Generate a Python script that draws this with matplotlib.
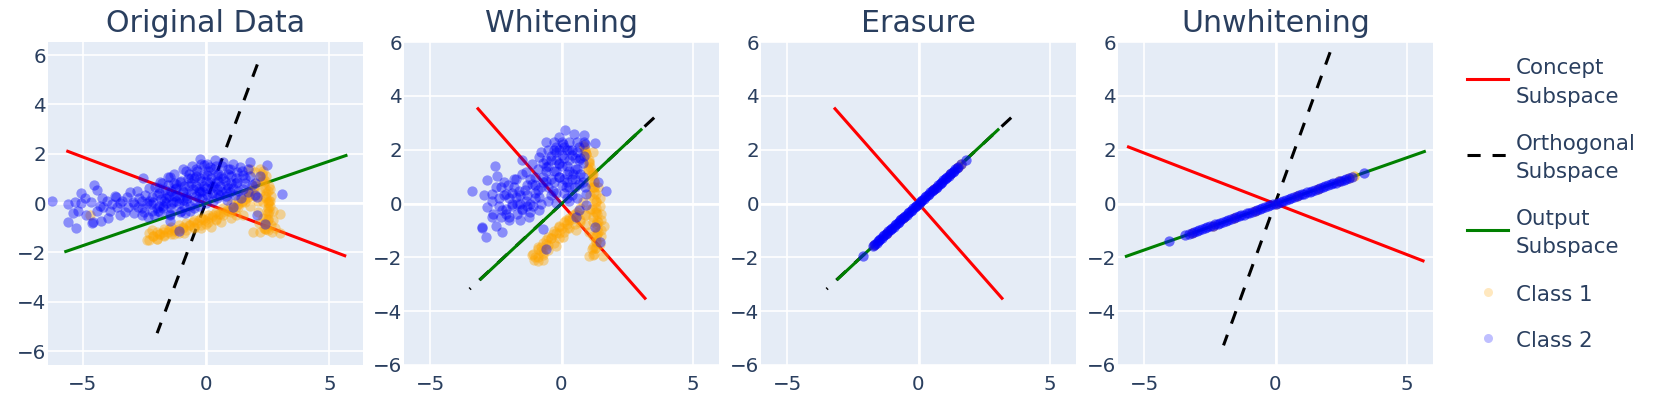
import matplotlib
matplotlib.use("Agg")
import matplotlib.pyplot as plt
from matplotlib.lines import Line2D

# ---- data ----
titles = ["Original Data", "Whitening", "Erasure", "Unwhitening"]

# subspace lines (endpoints), original / unwhitened space
concept_orig = ([-5.60, 5.62], [2.10, -2.13])
ortho_orig = ([2.08, -1.98], [5.62, -5.27])
output_orig = ([-5.68, 5.67], [-1.96, 1.93])
# subspace lines in whitened space
concept_wh = ([-3.18, 3.18], [3.52, -3.52])
ortho_wh = ([3.53, -3.50], [3.19, -3.18])
output_wh = ([-3.07, 3.03], [-2.80, 2.74])

# original data, class 1 (orange)
orig1_x = [-2.14, -1.73, -1.32, -0.92, -0.51, -0.11, 0.30, 0.70, 1.04, 1.31, 1.58, 1.78, 1.92, 2.05,
           1.99, 1.78, 2.19, 2.32, 2.46, 2.53, 2.39, 2.19, 2.66, 3.00, 1.78, 1.51, 1.92, 2.53, 2.59,
           2.12, -2.40, -2.00, -1.70, -1.30, -2.20, 3.00, -4.70, -1.90, -1.50, -1.10, -0.70, -0.30,
           0.10, 0.50, 0.90, 1.20, 1.45, 1.70, 2.00, 2.25, 2.30, 2.45, 2.60, 2.15, 2.40, -0.90, -0.50,
           0.00, 0.40, 1.20, 2.70, 2.80, 0.20, -0.20, 0.60, 1.00,
           -2.30, -2.00, -1.70, -1.40, -1.10, -0.80, -0.50, -0.20, 0.10, 0.40, 0.70, 1.00, 1.30, 1.60,
           -2.30, -2.00, -1.70, -1.40, -1.10, -0.80, -0.50, -0.20, 0.10, 0.40, 0.70, 1.00, 1.30, 1.60,
           2.20, 2.25, 2.30, 2.35, 2.40, 2.45, 2.45, 2.50, 2.50, 2.50, 2.45, 2.40, 2.35, 2.50,
           2.45, 2.55, 2.65, 2.70, 2.65, 2.60, 1.80, 2.00, 2.10,
           -2.15, -1.85, -1.55, -1.25, -0.95, -0.65, -0.35, -0.05, 0.25, 0.55, 0.85, 1.15, 1.45, 1.75,
           2.30, 2.40, 2.50, 2.55, 2.55, 2.50, 2.45]
orig1_y = [-1.32, -1.18, -1.12, -0.98, -0.78, -0.64, -0.50, -0.37, -0.23, -0.03, 0.18, 0.38, 0.58, 0.86,
           1.27, 1.40, 0.45, 0.04, -0.30, -0.64, -1.05, -1.18, -1.18, -0.44, -0.10, -0.50, -1.18, 0.04,
           0.58, -0.37, -1.50, -1.45, -1.30, -1.25, -1.10, -1.20, -0.50, -1.25, -1.05, -1.05, -0.90,
           -0.70, -0.60, -0.45, -0.30, -0.15, 0.05, 0.25, 0.70, 0.90, -0.60, -0.90, -0.10, -0.80, 0.30,
           -1.20, -0.95, -0.85, -0.70, -0.50, -0.70, -1.00, -0.95, -1.00, -0.75, -0.60,
           -1.20, -1.15, -1.05, -0.97, -0.90, -0.80, -0.70, -0.60, -0.47, -0.35, -0.20, -0.05, 0.13, 0.35,
           -1.50, -1.45, -1.35, -1.27, -1.20, -1.10, -1.00, -0.90, -0.77, -0.65, -0.50, -0.35, -0.17, 0.05,
           1.40, 1.20, 1.00, 0.80, 0.60, 0.40, 0.20, 0.00, -0.20, -0.40, -0.60, -0.80, -1.00, -1.10,
           1.10, 0.70, 0.30, -0.30, -0.90, 0.10, 0.50, 0.30, 0.10,
           -1.32, -1.25, -1.16, -1.09, -1.00, -0.90, -0.80, -0.69, -0.56, -0.43, -0.28, -0.11, 0.08, 0.30,
           1.30, 0.90, 0.50, 0.10, -0.30, -0.70, -1.05]

# original data, class 2 (blue)
orig2_x = [-6.23, -5.57, -5.32, -5.08, -4.55, -4.42, -5.08, -5.19, -5.60, -5.26, -4.88, -4.65, -4.58,
           -4.24, -4.17, -3.90, -3.64, -3.50, -3.16, -3.09, -2.96, -2.76, -2.48, -2.55, -2.35, -2.08,
           -2.22, -1.81, -1.95, -1.54, -1.67, -1.41, -1.47, -1.20, -4.63, -4.00, -3.80, -3.40, -3.30,
           -2.90, -2.60, -2.70, -4.40, -3.95, -5.40, -3.60, -2.40, -2.10, -1.90, -1.60, -1.75, -1.30,
           -4.90, -4.20, -3.70, -3.20, -2.90, -2.50, -2.20, -1.90, -1.40, -1.20, -1.00,
           0.36, 0.70, 0.97, 1.24, 1.78, 1.72, 1.38, 2.46, 3.07, -0.92, -0.41, -0.08, 0.05, -0.24,
           -0.72, -1.05, -1.46, -1.86, -2.00, -1.59, -1.26, -0.92, -0.51, -0.24, 0.03, 0.43, 0.84,
           1.24, 1.51, 1.72, 1.99, 1.85, 0.57, 0.97, -2.14, -1.73, -1.32, -0.92, -0.65, -1.46, -1.86,
           -1.05, -1.46, 0.84, 0.16, 0.43, 0.70, 1.51, 1.17, 1.10, 2.05, 2.38, -1.11, 2.05,
           -0.60, -0.30, 0.20, 0.50, -0.80, -0.40, 0.10, 0.30, -0.10, 0.90, 1.10, -1.10, -0.50, 0.60,
           -0.20, 0.00, 1.40, -0.70, 0.80, -1.30, 2.20, 1.60, -0.90, 0.40,
           -2.80, -2.60, -2.30, -2.00, -1.80, -1.70, -1.50, -1.40, -1.30, -1.20, -1.10, -1.00, -0.95,
           -0.85, -0.80, -0.75, -0.70, -0.60, -0.55, -0.50, -0.45, -0.40, -0.35, -0.30, -0.25, -0.20,
           -0.15, -0.10, 0.00, 0.05, 0.10, 0.20, 0.25, 0.30, 0.35, 0.45, 0.50, 0.55, 0.65, 0.75, 0.80,
           0.90, 1.00, 1.10, 1.20, 1.30, 1.45, 1.60, 1.80, 2.00, -1.90, -2.20, -1.55, -0.65, -0.30,
           -1.20, -0.90, -0.60, -0.30, 0.00, 0.30, 0.60, 0.90, 1.20, -0.40, 0.15, -0.15, -0.80, 0.50,
           -1.60, -2.30, -2.60, -3.50, -4.30, 1.00]
orig2_y = [0.08, -0.03, 0.04, 0.41, 0.75, 0.52, 0.00, -0.30, -0.78, -1.00, -0.50, 0.04, -0.78, -0.71,
           -0.16, -0.30, 0.24, -0.50, -0.16, 0.45, 0.04, -0.16, 0.31, 1.00, -0.57, 0.65, -0.03, 0.18,
           -0.30, 1.06, 0.52, -0.03, -0.43, 0.79, -0.82, 0.10, -0.05, 0.10, -0.35, -0.40, -0.20, 0.20,
           -0.30, -0.60, -0.40, -0.15, 0.00, -0.50, 0.40, 0.00, -0.20, 0.30, 0.20, 0.20, 0.30, 0.25,
           -0.05, -0.35, 0.25, -0.10, 0.50, 0.10, -0.30,
           1.74, 1.67, 1.40, 1.27, 1.67, 1.40, 1.47, 1.54, 0.38, 1.40, 1.40, 1.54, 1.13, 1.00, 1.00,
           0.86, 1.06, 0.86, 0.31, 0.38, 0.58, 0.45, 0.58, 0.45, 0.38, 0.58, 0.72, 0.86, 0.58, 0.45,
           0.31, 0.72, 0.31, 0.45, 0.04, -0.10, 0.04, 0.11, -0.10, -0.50, -0.37, -0.37, -0.71, 0.11,
           0.86, 1.13, 1.00, 1.13, 0.31, -0.16, -0.50, -0.84, -1.11, 0.24,
           0.80, 0.20, 0.60, 0.90, 0.30, 1.10, 1.30, 0.10, 0.70, 1.20, 0.60, 0.20, -0.20, 0.50,
           1.60, 0.00, 0.20, 1.20, 0.30, 0.80, 1.10, 1.00, -0.10, 1.50,
           0.50, -0.50, 0.60, -0.20, 0.80, 0.10, 0.30, -0.20, 1.20, 0.60, 0.00, 0.90, 0.50, -0.40, 1.30,
           0.20, 0.70, 0.40, 1.50, 1.00, 0.10, 0.70, 1.30, 0.50, 1.80, 0.90, 0.20, 1.20, 0.60, 1.60,
           0.30, 1.00, 0.40, 1.40, 0.80, 0.20, 1.20, 0.70, 1.50, 0.90, 0.50, 1.40, 0.80, 1.60, 1.00,
           0.50, 1.30, 0.80, 1.10, 0.80, 0.60, -0.30, 0.75, -0.30, -0.10,
           0.30, 0.70, 1.00, 0.60, 0.90, 0.70, 1.10, 0.60, 0.80, 0.30, 1.45, 0.50, 0.10, 0.35,
           0.20, 0.10, 0.10, 0.00, -0.10, 1.10]

# whitened data, class 1
wh1_x = [-1.11, -0.91, -0.60, -0.34, -0.09, 0.17, 0.42, 0.55, 0.04, -0.21, -0.72, -1.04,
         0.80, 0.93, 1.06, 1.18, 1.25, 1.25, 1.31, 1.31, 1.38, 1.38, 1.31, 1.25, 1.06, 1.57, 1.63,
         0.80, 0.93, 1.06, -0.80, -0.50, -0.40, -0.10, 0.20, 0.30, 0.60, 0.70, -0.90, -0.70, 1.10,
         1.20, 1.50, 1.20, 1.45, 1.15, 1.00, 0.90, 1.50, 1.20, 0.95,
         -1.10, -0.90, -0.70, -0.50, -0.30, -0.10, 0.10, 0.30, 0.50, 0.70,
         -0.90, -0.70, -0.50, -0.30, -0.10, 0.10, 0.30, 0.50, 0.70, 0.90,
         0.85, 0.95, 1.05, 1.10, 1.20, 1.25, 1.25, 1.30, 1.30, 1.30, 1.35, 1.35, 1.35, 1.35, 1.30,
         1.30, 1.20, 1.00, 1.10, 1.10, 1.15, 1.20, 1.20, 1.15, 1.40, 1.45, 1.50, 1.50, 1.45,
         -1.00, -0.80, -0.60, -0.40, -0.20, 0.00, 0.20, 0.40, 0.60,
         0.90, 1.05, 1.15, 1.22, 1.25, 1.28, 1.30, 1.30, 1.28]
wh1_y = [-1.93, -1.61, -1.36, -1.12, -0.87, -0.63, -0.44, -0.99, -1.25, -1.59, -1.84, -2.11,
         2.16, 1.85, 1.54, 1.17, 0.79, 0.42, 0.05, -0.33, -0.70, -1.07, -1.44, -1.88, -1.94, -1.94,
         -0.82, 0.05, -0.44, -1.07, -1.60, -1.55, -1.30, -1.10, -0.90, -0.60, -0.30, -0.70, -2.00,
         -2.10, -0.20, -0.50, -1.20, -1.60, 0.20, 0.60, 1.30, 2.00, -0.40, 1.90, -0.80,
         -1.88, -1.68, -1.48, -1.23, -1.03, -0.83, -0.68, -0.53, -0.38, -0.18,
         -2.12, -1.92, -1.72, -1.47, -1.27, -1.07, -0.92, -0.77, -0.62, -0.42,
         2.10, 1.85, 1.60, 1.35, 1.10, 0.85, 0.60, 0.35, 0.10, -0.15, -0.40, -0.65, -0.90, -1.15,
         -1.40, -1.65, -1.90, 1.30, 0.80, 0.30, -0.20, -0.70, -1.20, -1.70, 0.60, -0.10, -0.60,
         -1.00, -1.50,
         -2.00, -1.75, -1.50, -1.30, -1.10, -0.92, -0.75, -0.58, -0.42,
         1.95, 1.50, 1.05, 0.60, 0.15, -0.30, -0.75, -1.20, -1.65]

# whitened data, class 2
wh2_x = [0.14, -0.09, 0.48, 0.87, 1.29, -0.60, -0.21, 0.30, -0.85, -1.11, -1.49, -2.53, -2.44,
         -2.82, -1.73, -2.05, -1.36, -0.60, -0.09, 0.67, 0.42, -0.09, -0.60, -1.11, -1.62, -2.13,
         -2.63, -2.95, -3.01, -2.86, -2.50, -2.63, -2.82, -2.25, -1.87, -1.36, -0.85, -0.34, 0.17,
         0.67, 1.38, 1.70, 0.93, -1.99, -2.25, -1.23, -0.85, -1.49, -2.12, -0.72, -0.21, 0.30, 0.67,
         -2.63, -1.73, -0.40, 0.04, 0.68, 0.87, -0.60, 1.28, 1.47, 0.95, 0.57, 0.87, -3.42, -3.04,
         -0.30, 0.20, 0.50, -0.50, 0.00, 0.30, -0.20, 0.60, -0.70, 0.10, 0.40, -0.40, 0.80, -1.00,
         -1.30, -1.60, -2.00, -2.30, -1.80, -0.10, 0.50, -1.00, -0.50, 0.20, -1.20, -1.60, -2.40, 0.90,
         -0.80, -0.60, -0.50, -0.30, -0.20, -0.10, 0.00, 0.10, 0.20, 0.30, 0.40, 0.50, 0.60, 0.70,
         0.80, 0.90, 0.30, 0.00, -0.30, -0.60, -0.90, -0.80, -0.40, 0.10, 0.60, -1.20, -1.40, -1.50,
         -1.70, -1.90, -2.10, -2.20, -2.40, -2.60, -2.00, -1.50, -1.10, -0.80, -1.30, -1.00, -0.20,
         0.40, -0.70, 0.20, -1.80,
         -0.50, -0.20, 0.10, 0.40, 0.70, -0.10, 0.20, 0.50, -0.40, -0.70, 0.00, 0.30, -0.30, 0.60,
         -1.00, -1.30, -1.60, -1.90, -2.20, -2.50, -2.30, -1.70, -1.20, -0.90, 0.80]
wh2_y = [2.74, 2.47, 2.57, 2.55, 2.26, 2.29, 2.09, 1.97, 1.72, 1.47, 1.60, 1.38, 1.04, 0.86, 0.92,
         0.67, 1.17, 1.35, 1.47, 1.60, 1.10, 0.98, 0.85, 0.73, 0.48, 0.36, 0.36, 0.30, -0.88, -1.25,
         -0.82, -0.51, -0.14, -0.26, -0.01, 0.11, 0.24, 0.48, 0.61, 0.73, 0.79, 0.48, 0.36, -0.63,
         -1.07, -0.51, -0.26, -0.26, -0.38, -0.94, 0.01, 0.11, -0.26, 0.11, 0.24, 1.78, 2.22, 2.09,
         2.28, -1.69, -0.88, -1.44, -0.07, -0.51, 1.78, 0.45, -0.92,
         1.20, 1.40, 0.90, 0.60, 1.80, 2.30, 0.40, 1.30, 1.00, 0.90, 0.30, 1.60, 1.00, 0.40,
         -0.10, 0.00, 0.20, 0.60, 0.60, 2.00, 1.70, 1.00, 0.10, 0.20, -0.30, -0.60, -0.10, 0.60,
         1.90, 1.60, 2.00, 2.30, 1.90, 1.50, 2.30, 1.70, 1.10, 1.60, 2.00, 1.30, 1.90, 1.10,
         1.50, 2.20, 0.60, 0.70, 0.80, 1.20, 1.30, 0.60, 0.30, 0.40, 0.20, 0.90, 0.50, 1.10,
         0.00, 0.40, -0.20, 0.80, 0.20, -0.40, -0.50, -0.20, -0.10, 0.00, 0.30, 0.70, 1.20,
         0.90, 1.50, 2.00, 0.90,
         1.40, 1.60, 2.10, 1.80, 1.70, 1.00, 0.80, 0.60, 0.90, 0.80, 1.40, 1.20, 2.00, 2.30,
         0.20, 0.70, 0.30, -0.10, 0.30, 0.60, -0.50, -0.40, 0.00, 0.50, 0.80]

# erased data (whitened space), along the output subspace
er1_x = [-1.70, -1.20, -0.60, 0.00, 0.60, 1.20, 1.50, 1.60]
er1_y = [-1.54, -1.09, -0.54, 0.00, 0.54, 1.09, 1.36, 1.45]
er2_x = [-2.12, -1.75, -1.70, -1.65, -1.60, -1.55, -1.50, -1.45, -1.40, -1.35, -1.30, -1.25, -1.20,
         -1.15, -1.10, -1.05, -1.00, -0.95, -0.90, -0.85, -0.80, -0.75, -0.70, -0.65, -0.60, -0.55,
         -0.50, -0.45, -0.40, -0.35, -0.30, -0.25, -0.20, -0.15, -0.10, -0.05, 0.00, 0.05, 0.10,
         0.15, 0.20, 0.25, 0.30, 0.35, 0.40, 0.45, 0.50, 0.55, 0.60, 0.65, 0.70, 0.75, 0.80, 0.85,
         0.90, 0.95, 1.00, 1.05, 1.10, 1.15, 1.20, 1.25, 1.30, 1.35, 1.40, 1.45, 1.50, 1.60, 1.81]
er2_y = [-1.95, -1.58, -1.54, -1.49, -1.45, -1.40, -1.36, -1.31, -1.27, -1.22, -1.18, -1.13, -1.09,
         -1.04, -1.00, -0.95, -0.91, -0.86, -0.81, -0.77, -0.72, -0.68, -0.63, -0.59, -0.54, -0.50,
         -0.45, -0.41, -0.36, -0.32, -0.27, -0.23, -0.18, -0.14, -0.09, -0.05, 0.00, 0.05, 0.09,
         0.14, 0.18, 0.23, 0.27, 0.32, 0.36, 0.41, 0.45, 0.50, 0.54, 0.59, 0.63, 0.68, 0.72, 0.77,
         0.81, 0.86, 0.91, 0.95, 1.00, 1.04, 1.09, 1.13, 1.18, 1.22, 1.27, 1.31, 1.36, 1.45, 1.63]

# unwhitened data, along the output subspace
uw1_x = [-3.20, -2.40, -1.60, -0.80, 0.00, 0.80, 1.60, 2.40, 2.80, 3.00]
uw1_y = [-1.09, -0.82, -0.54, -0.27, 0.00, 0.27, 0.54, 0.82, 0.95, 1.02]
uw2_x = [-4.05, -3.45, -3.30, -3.20, -3.10, -3.00, -2.90, -2.80, -2.70, -2.60, -2.50, -2.40, -2.30,
         -2.20, -2.10, -2.00, -1.90, -1.80, -1.70, -1.60, -1.50, -1.40, -1.30, -1.20, -1.10, -1.00,
         -0.90, -0.80, -0.70, -0.60, -0.50, -0.40, -0.30, -0.20, -0.10, 0.00, 0.10, 0.20, 0.30,
         0.40, 0.50, 0.60, 0.70, 0.80, 0.90, 1.00, 1.10, 1.20, 1.30, 1.40, 1.50, 1.60, 1.70, 1.80,
         1.90, 2.00, 2.10, 2.20, 2.30, 2.40, 2.50, 2.60, 2.70, 2.80, 2.90, 3.36]
uw2_y = [-1.38, -1.17, -1.12, -1.09, -1.05, -1.02, -0.99, -0.95, -0.92, -0.88, -0.85, -0.82, -0.78,
         -0.75, -0.71, -0.68, -0.65, -0.61, -0.58, -0.54, -0.51, -0.48, -0.44, -0.41, -0.37, -0.34,
         -0.31, -0.27, -0.24, -0.20, -0.17, -0.14, -0.10, -0.07, -0.03, 0.00, 0.03, 0.07, 0.10,
         0.14, 0.17, 0.20, 0.24, 0.27, 0.31, 0.34, 0.37, 0.41, 0.44, 0.48, 0.51, 0.54, 0.58, 0.61,
         0.65, 0.68, 0.71, 0.75, 0.78, 0.82, 0.85, 0.88, 0.92, 0.95, 0.99, 1.15]

panels = [
    (concept_orig, ortho_orig, output_orig, orig1_x, orig1_y, orig2_x, orig2_y),
    (concept_wh, ortho_wh, output_wh, wh1_x, wh1_y, wh2_x, wh2_y),
    (concept_wh, ortho_wh, output_wh, er1_x, er1_y, er2_x, er2_y),
    (concept_orig, ortho_orig, output_orig, uw1_x, uw1_y, uw2_x, uw2_y),
]
xlims = [(-6.40, 6.36), (-6, 6), (-6, 6), (-6, 6)]
ylims = [(-6.56, 6.53), (-6, 6), (-6, 6), (-6, 6)]
point_alpha = [0.4, 0.4, 0.55, 0.55]

# ---- style ----
W, H = 1661, 408
TXT = "#2a3f5f"
BG = "#E5ECF6"
DASH = (4.3, 3.9)
plt.rcParams["font.family"] = ["DejaVu Sans"]

fig = plt.figure(figsize=(W / 100, H / 100), dpi=100)
lefts = [48, 404, 761, 1118]
top, bottom, pw = 42, 365, 315

for i, (c, o, u, x1, y1, x2, y2) in enumerate(panels):
    ax = fig.add_axes([lefts[i] / W, (H - bottom) / H, pw / W, (bottom - top) / H])
    ax.set_facecolor(BG)
    for s in ax.spines.values():
        s.set_visible(False)
    ax.set_xlim(*xlims[i])
    ax.set_ylim(*ylims[i])
    ax.set_xticks([-5, 0, 5])
    ax.set_yticks([-6, -4, -2, 0, 2, 4, 6])
    ax.grid(True, color="white", lw=1.2)
    ax.axhline(0, color="white", lw=1.9, zorder=0.6)
    ax.axvline(0, color="white", lw=1.9, zorder=0.6)
    ax.set_axisbelow(True)
    ax.tick_params(length=0, labelsize=14.3, labelcolor=TXT)
    ax.tick_params(axis="x", pad=7)
    ax.tick_params(axis="y", pad=1.5)

    ax.plot(c[0], c[1], color="red", lw=2.2, zorder=2)
    ax.plot(o[0], o[1], color="black", lw=2.2, dashes=DASH, zorder=2)
    ax.plot(u[0], u[1], color="green", lw=2.2, zorder=2)
    ax.scatter(x1, y1, s=55, color="orange", alpha=point_alpha[i], linewidths=0, zorder=3)
    ax.scatter(x2, y2, s=55, color="blue", alpha=point_alpha[i], linewidths=0, zorder=4)
    ax.set_title(titles[i], fontsize=21.6, color=TXT, y=1.031, pad=0)

# ---- legend, drawn by hand like the plotly one ----
def fx(px):
    return px / W

def fy(py):
    return 1 - py / H

lx0, lx1, tx = 1467, 1508, 1516
entries = [
    (dict(color="red", lw=2.2), 79, ["Concept", "Subspace"], [74.3, 102.7]),
    (dict(color="black", lw=2.2, dashes=DASH), 155, ["Orthogonal", "Subspace"], [150, 178.3]),
    (dict(color="green", lw=2.2), 230, ["Output", "Subspace"], [225, 253.3]),
]
for style, ly, lines, bases in entries:
    fig.add_artist(Line2D([fx(lx0), fx(lx1)], [fy(ly), fy(ly)], transform=fig.transFigure, **style))
    for t, b in zip(lines, bases):
        fig.text(fx(tx), fy(b), t, fontsize=15.4, color=TXT, va="baseline")

for col, ly, lab, b in [("orange", 291.7, "Class 1", 300.7), ("blue", 338.3, "Class 2", 346.7)]:
    fig.add_artist(Line2D([fx(1488)], [fy(ly)], transform=fig.transFigure, marker="o",
                          markersize=6.5, color=col, alpha=0.25, markeredgewidth=0, ls="none"))
    fig.text(fx(tx), fy(b), lab, fontsize=15.4, color=TXT, va="baseline")

fig.savefig("out.png", dpi=100, facecolor="white")
